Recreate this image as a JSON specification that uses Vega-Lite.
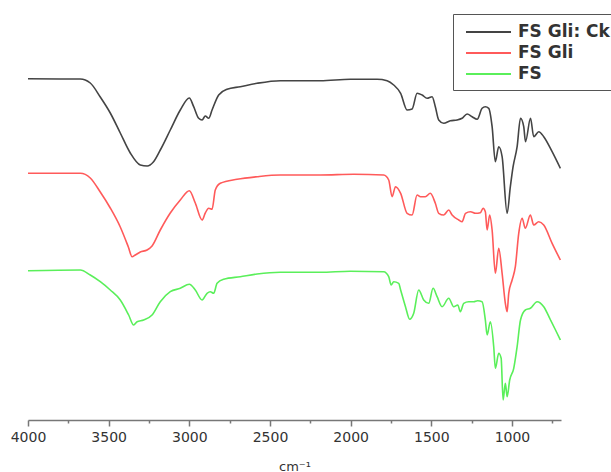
{
  "$schema": "https://vega.github.io/schema/vega-lite/v6.json",
  "autosize": {"type": "none"},
  "padding": {"left": 28, "top": 0, "right": 50, "bottom": 52},
  "width": 533,
  "height": 420,
  "background": "white",
  "config": {"view": {"stroke": null}},
  "data": {"values": [
    {"series": "FS Gli: Ck", "wn": 4000, "t": 341.3},
    {"series": "FS Gli: Ck", "wn": 3738, "t": 341},
    {"series": "FS Gli: Ck", "wn": 3676, "t": 341},
    {"series": "FS Gli: Ck", "wn": 3614, "t": 337},
    {"series": "FS Gli: Ck", "wn": 3552, "t": 323},
    {"series": "FS Gli: Ck", "wn": 3490, "t": 307},
    {"series": "FS Gli: Ck", "wn": 3428, "t": 287},
    {"series": "FS Gli: Ck", "wn": 3366, "t": 267},
    {"series": "FS Gli: Ck", "wn": 3304, "t": 255},
    {"series": "FS Gli: Ck", "wn": 3261, "t": 254},
    {"series": "FS Gli: Ck", "wn": 3223, "t": 258},
    {"series": "FS Gli: Ck", "wn": 3180, "t": 270},
    {"series": "FS Gli: Ck", "wn": 3118, "t": 290},
    {"series": "FS Gli: Ck", "wn": 3056, "t": 310},
    {"series": "FS Gli: Ck", "wn": 3000, "t": 322},
    {"series": "FS Gli: Ck", "wn": 2973, "t": 313.3},
    {"series": "FS Gli: Ck", "wn": 2942, "t": 301.7},
    {"series": "FS Gli: Ck", "wn": 2921, "t": 300},
    {"series": "FS Gli: Ck", "wn": 2901, "t": 304},
    {"series": "FS Gli: Ck", "wn": 2880, "t": 301.7},
    {"series": "FS Gli: Ck", "wn": 2859, "t": 310},
    {"series": "FS Gli: Ck", "wn": 2818, "t": 325},
    {"series": "FS Gli: Ck", "wn": 2766, "t": 330.7},
    {"series": "FS Gli: Ck", "wn": 2684, "t": 333.3},
    {"series": "FS Gli: Ck", "wn": 2580, "t": 336.7},
    {"series": "FS Gli: Ck", "wn": 2436, "t": 339.3},
    {"series": "FS Gli: Ck", "wn": 2188, "t": 339.3},
    {"series": "FS Gli: Ck", "wn": 2002, "t": 340.7},
    {"series": "FS Gli: Ck", "wn": 1836, "t": 340.7},
    {"series": "FS Gli: Ck", "wn": 1774, "t": 339.3},
    {"series": "FS Gli: Ck", "wn": 1733, "t": 335},
    {"series": "FS Gli: Ck", "wn": 1690, "t": 326.7},
    {"series": "FS Gli: Ck", "wn": 1650, "t": 310},
    {"series": "FS Gli: Ck", "wn": 1619, "t": 311},
    {"series": "FS Gli: Ck", "wn": 1588, "t": 326.7},
    {"series": "FS Gli: Ck", "wn": 1557, "t": 325},
    {"series": "FS Gli: Ck", "wn": 1526, "t": 321.7},
    {"series": "FS Gli: Ck", "wn": 1495, "t": 323.3},
    {"series": "FS Gli: Ck", "wn": 1475, "t": 313.3},
    {"series": "FS Gli: Ck", "wn": 1454, "t": 300},
    {"series": "FS Gli: Ck", "wn": 1423, "t": 296.7},
    {"series": "FS Gli: Ck", "wn": 1382, "t": 299.3},
    {"series": "FS Gli: Ck", "wn": 1340, "t": 300},
    {"series": "FS Gli: Ck", "wn": 1309, "t": 301.7},
    {"series": "FS Gli: Ck", "wn": 1278, "t": 306},
    {"series": "FS Gli: Ck", "wn": 1247, "t": 303.3},
    {"series": "FS Gli: Ck", "wn": 1216, "t": 300.7},
    {"series": "FS Gli: Ck", "wn": 1185, "t": 311.7},
    {"series": "FS Gli: Ck", "wn": 1165, "t": 313.3},
    {"series": "FS Gli: Ck", "wn": 1144, "t": 311.7},
    {"series": "FS Gli: Ck", "wn": 1123, "t": 293.3},
    {"series": "FS Gli: Ck", "wn": 1103, "t": 258.3},
    {"series": "FS Gli: Ck", "wn": 1082, "t": 273.3},
    {"series": "FS Gli: Ck", "wn": 1061, "t": 263.3},
    {"series": "FS Gli: Ck", "wn": 1030, "t": 206.7},
    {"series": "FS Gli: Ck", "wn": 1010, "t": 233.3},
    {"series": "FS Gli: Ck", "wn": 993, "t": 253.3},
    {"series": "FS Gli: Ck", "wn": 968, "t": 273.3},
    {"series": "FS Gli: Ck", "wn": 947, "t": 301.7},
    {"series": "FS Gli: Ck", "wn": 927, "t": 293.3},
    {"series": "FS Gli: Ck", "wn": 916, "t": 278.3},
    {"series": "FS Gli: Ck", "wn": 885, "t": 301.7},
    {"series": "FS Gli: Ck", "wn": 865, "t": 283.3},
    {"series": "FS Gli: Ck", "wn": 834, "t": 288.3},
    {"series": "FS Gli: Ck", "wn": 803, "t": 283.3},
    {"series": "FS Gli: Ck", "wn": 751, "t": 268.3},
    {"series": "FS Gli: Ck", "wn": 700, "t": 251.7},
    {"series": "FS Gli", "wn": 4000, "t": 246.7},
    {"series": "FS Gli", "wn": 3676, "t": 246.7},
    {"series": "FS Gli", "wn": 3614, "t": 242},
    {"series": "FS Gli", "wn": 3552, "t": 228},
    {"series": "FS Gli", "wn": 3490, "t": 212},
    {"series": "FS Gli", "wn": 3428, "t": 193},
    {"series": "FS Gli", "wn": 3378, "t": 173},
    {"series": "FS Gli", "wn": 3355, "t": 163.3},
    {"series": "FS Gli", "wn": 3335, "t": 165},
    {"series": "FS Gli", "wn": 3304, "t": 168},
    {"series": "FS Gli", "wn": 3262, "t": 170},
    {"series": "FS Gli", "wn": 3231, "t": 174},
    {"series": "FS Gli", "wn": 3180, "t": 190},
    {"series": "FS Gli", "wn": 3118, "t": 207},
    {"series": "FS Gli", "wn": 3056, "t": 220},
    {"series": "FS Gli", "wn": 3000, "t": 229.3},
    {"series": "FS Gli", "wn": 2963, "t": 217},
    {"series": "FS Gli", "wn": 2921, "t": 200},
    {"series": "FS Gli", "wn": 2901, "t": 207},
    {"series": "FS Gli", "wn": 2880, "t": 211.7},
    {"series": "FS Gli", "wn": 2859, "t": 210.7},
    {"series": "FS Gli", "wn": 2839, "t": 230},
    {"series": "FS Gli", "wn": 2808, "t": 236.7},
    {"series": "FS Gli", "wn": 2704, "t": 240.7},
    {"series": "FS Gli", "wn": 2580, "t": 243.3},
    {"series": "FS Gli", "wn": 2436, "t": 245},
    {"series": "FS Gli", "wn": 2188, "t": 245},
    {"series": "FS Gli", "wn": 1981, "t": 245.7},
    {"series": "FS Gli", "wn": 1795, "t": 245},
    {"series": "FS Gli", "wn": 1764, "t": 240},
    {"series": "FS Gli", "wn": 1743, "t": 223.3},
    {"series": "FS Gli", "wn": 1722, "t": 233.3},
    {"series": "FS Gli", "wn": 1690, "t": 226.7},
    {"series": "FS Gli", "wn": 1650, "t": 206.7},
    {"series": "FS Gli", "wn": 1619, "t": 205},
    {"series": "FS Gli", "wn": 1588, "t": 225},
    {"series": "FS Gli", "wn": 1567, "t": 223.3},
    {"series": "FS Gli", "wn": 1537, "t": 223.3},
    {"series": "FS Gli", "wn": 1506, "t": 226.7},
    {"series": "FS Gli", "wn": 1475, "t": 216.7},
    {"series": "FS Gli", "wn": 1454, "t": 206.7},
    {"series": "FS Gli", "wn": 1423, "t": 205},
    {"series": "FS Gli", "wn": 1392, "t": 210},
    {"series": "FS Gli", "wn": 1371, "t": 205},
    {"series": "FS Gli", "wn": 1330, "t": 200},
    {"series": "FS Gli", "wn": 1309, "t": 198.3},
    {"series": "FS Gli", "wn": 1288, "t": 206.7},
    {"series": "FS Gli", "wn": 1257, "t": 208.3},
    {"series": "FS Gli", "wn": 1226, "t": 206.7},
    {"series": "FS Gli", "wn": 1196, "t": 207.3},
    {"series": "FS Gli", "wn": 1179, "t": 211.7},
    {"series": "FS Gli", "wn": 1165, "t": 208.3},
    {"series": "FS Gli", "wn": 1154, "t": 190},
    {"series": "FS Gli", "wn": 1138, "t": 205},
    {"series": "FS Gli", "wn": 1123, "t": 190},
    {"series": "FS Gli", "wn": 1103, "t": 146.7},
    {"series": "FS Gli", "wn": 1082, "t": 171.7},
    {"series": "FS Gli", "wn": 1061, "t": 146.7},
    {"series": "FS Gli", "wn": 1041, "t": 116.7},
    {"series": "FS Gli", "wn": 1030, "t": 108.3},
    {"series": "FS Gli", "wn": 1020, "t": 126.7},
    {"series": "FS Gli", "wn": 999, "t": 140},
    {"series": "FS Gli", "wn": 979, "t": 153.3},
    {"series": "FS Gli", "wn": 958, "t": 186.7},
    {"series": "FS Gli", "wn": 937, "t": 201.7},
    {"series": "FS Gli", "wn": 917, "t": 191.7},
    {"series": "FS Gli", "wn": 886, "t": 205},
    {"series": "FS Gli", "wn": 865, "t": 195},
    {"series": "FS Gli", "wn": 834, "t": 198.3},
    {"series": "FS Gli", "wn": 803, "t": 195},
    {"series": "FS Gli", "wn": 751, "t": 176.7},
    {"series": "FS Gli", "wn": 700, "t": 160},
    {"series": "FS", "wn": 4000, "t": 149.3},
    {"series": "FS", "wn": 3676, "t": 150},
    {"series": "FS", "wn": 3614, "t": 145},
    {"series": "FS", "wn": 3552, "t": 138.3},
    {"series": "FS", "wn": 3490, "t": 130},
    {"series": "FS", "wn": 3428, "t": 120},
    {"series": "FS", "wn": 3376, "t": 105},
    {"series": "FS", "wn": 3345, "t": 95},
    {"series": "FS", "wn": 3324, "t": 98.3},
    {"series": "FS", "wn": 3283, "t": 100},
    {"series": "FS", "wn": 3231, "t": 105},
    {"series": "FS", "wn": 3180, "t": 118.3},
    {"series": "FS", "wn": 3118, "t": 128.3},
    {"series": "FS", "wn": 3056, "t": 131.7},
    {"series": "FS", "wn": 3000, "t": 135.7},
    {"series": "FS", "wn": 2963, "t": 130},
    {"series": "FS", "wn": 2921, "t": 120},
    {"series": "FS", "wn": 2890, "t": 126.7},
    {"series": "FS", "wn": 2870, "t": 128.3},
    {"series": "FS", "wn": 2849, "t": 126.7},
    {"series": "FS", "wn": 2828, "t": 136.7},
    {"series": "FS", "wn": 2787, "t": 140.7},
    {"series": "FS", "wn": 2684, "t": 143.3},
    {"series": "FS", "wn": 2580, "t": 146},
    {"series": "FS", "wn": 2436, "t": 147.7},
    {"series": "FS", "wn": 2188, "t": 147.7},
    {"series": "FS", "wn": 2002, "t": 148.7},
    {"series": "FS", "wn": 1795, "t": 148.3},
    {"series": "FS", "wn": 1764, "t": 143.3},
    {"series": "FS", "wn": 1749, "t": 135},
    {"series": "FS", "wn": 1733, "t": 138.3},
    {"series": "FS", "wn": 1702, "t": 136.7},
    {"series": "FS", "wn": 1690, "t": 130},
    {"series": "FS", "wn": 1660, "t": 113.3},
    {"series": "FS", "wn": 1634, "t": 100.7},
    {"series": "FS", "wn": 1609, "t": 106.7},
    {"series": "FS", "wn": 1578, "t": 130},
    {"series": "FS", "wn": 1547, "t": 120},
    {"series": "FS", "wn": 1516, "t": 116.7},
    {"series": "FS", "wn": 1489, "t": 131.7},
    {"series": "FS", "wn": 1464, "t": 123.3},
    {"series": "FS", "wn": 1433, "t": 113.3},
    {"series": "FS", "wn": 1392, "t": 121.7},
    {"series": "FS", "wn": 1361, "t": 113.3},
    {"series": "FS", "wn": 1336, "t": 115},
    {"series": "FS", "wn": 1320, "t": 108.3},
    {"series": "FS", "wn": 1299, "t": 116.7},
    {"series": "FS", "wn": 1268, "t": 118.3},
    {"series": "FS", "wn": 1237, "t": 118.3},
    {"series": "FS", "wn": 1213, "t": 119.3},
    {"series": "FS", "wn": 1185, "t": 118.3},
    {"series": "FS", "wn": 1165, "t": 100},
    {"series": "FS", "wn": 1154, "t": 85},
    {"series": "FS", "wn": 1134, "t": 98.3},
    {"series": "FS", "wn": 1113, "t": 73.3},
    {"series": "FS", "wn": 1103, "t": 51.7},
    {"series": "FS", "wn": 1082, "t": 66.7},
    {"series": "FS", "wn": 1067, "t": 61.7},
    {"series": "FS", "wn": 1055, "t": 20},
    {"series": "FS", "wn": 1041, "t": 36.7},
    {"series": "FS", "wn": 1030, "t": 23.3},
    {"series": "FS", "wn": 1014, "t": 40},
    {"series": "FS", "wn": 989, "t": 51.7},
    {"series": "FS", "wn": 968, "t": 73.3},
    {"series": "FS", "wn": 947, "t": 100},
    {"series": "FS", "wn": 917, "t": 110},
    {"series": "FS", "wn": 886, "t": 111.7},
    {"series": "FS", "wn": 844, "t": 118.3},
    {"series": "FS", "wn": 803, "t": 113.3},
    {"series": "FS", "wn": 761, "t": 100},
    {"series": "FS", "wn": 730, "t": 90},
    {"series": "FS", "wn": 700, "t": 80}
  ]},
  "mark": {"type": "line", "strokeWidth": 1.6, "interpolate": "monotone"},
  "encoding": {
    "x": {
      "field": "wn", "type": "quantitative",
      "scale": {"domain": [696, 4000], "reverse": true, "nice": false, "zero": false},
      "axis": {
        "values": [4000, 3750, 3500, 3250, 3000, 2750, 2500, 2250, 2000, 1750, 1500, 1250, 1000, 750],
        "format": "d",
        "labelExpr": "datum.value % 500 === 0 ? datum.label : ''",
        "tickSize": {"condition": {"test": "datum.value % 500 === 0", "value": 6}, "value": 3},
        "grid": false,
        "domainColor": "#777777", "domainWidth": 1.5,
        "tickColor": "#777777", "tickWidth": 1.5,
        "labelFont": "DejaVu Sans", "labelFontSize": 14, "labelColor": "#333333",
        "labelPadding": 4, "labelFlush": false, "labelOverlap": false,
        "title": "cm⁻¹", "titleFont": "DejaVu Sans", "titleFontSize": 13,
        "titleFontWeight": "normal", "titleColor": "#333333", "titlePadding": 16
      }
    },
    "y": {"field": "t", "type": "quantitative", "scale": {"domain": [0, 420]}, "axis": null},
    "color": {
      "field": "series", "type": "nominal",
      "scale": {"domain": ["FS Gli: Ck", "FS Gli", "FS"], "range": ["#444444", "#ff5a5a", "#5aef5a"]},
      "legend": {
        "title": null, "orient": "none", "legendX": 425, "legendY": 14,
        "symbolType": "M-2.5,0H2.5", "symbolSize": 324, "symbolStrokeWidth": 2,
        "labelFont": "DejaVu Sans", "labelFontSize": 17, "labelFontWeight": "bold", "labelColor": "#333333",
        "strokeColor": "#555555", "fillColor": "white", "padding": 8, "rowPadding": 3,
        "labelOffset": 19.5, "symbolOffset": 17.5, "labelLimit": 300
      }
    }
  }
}
